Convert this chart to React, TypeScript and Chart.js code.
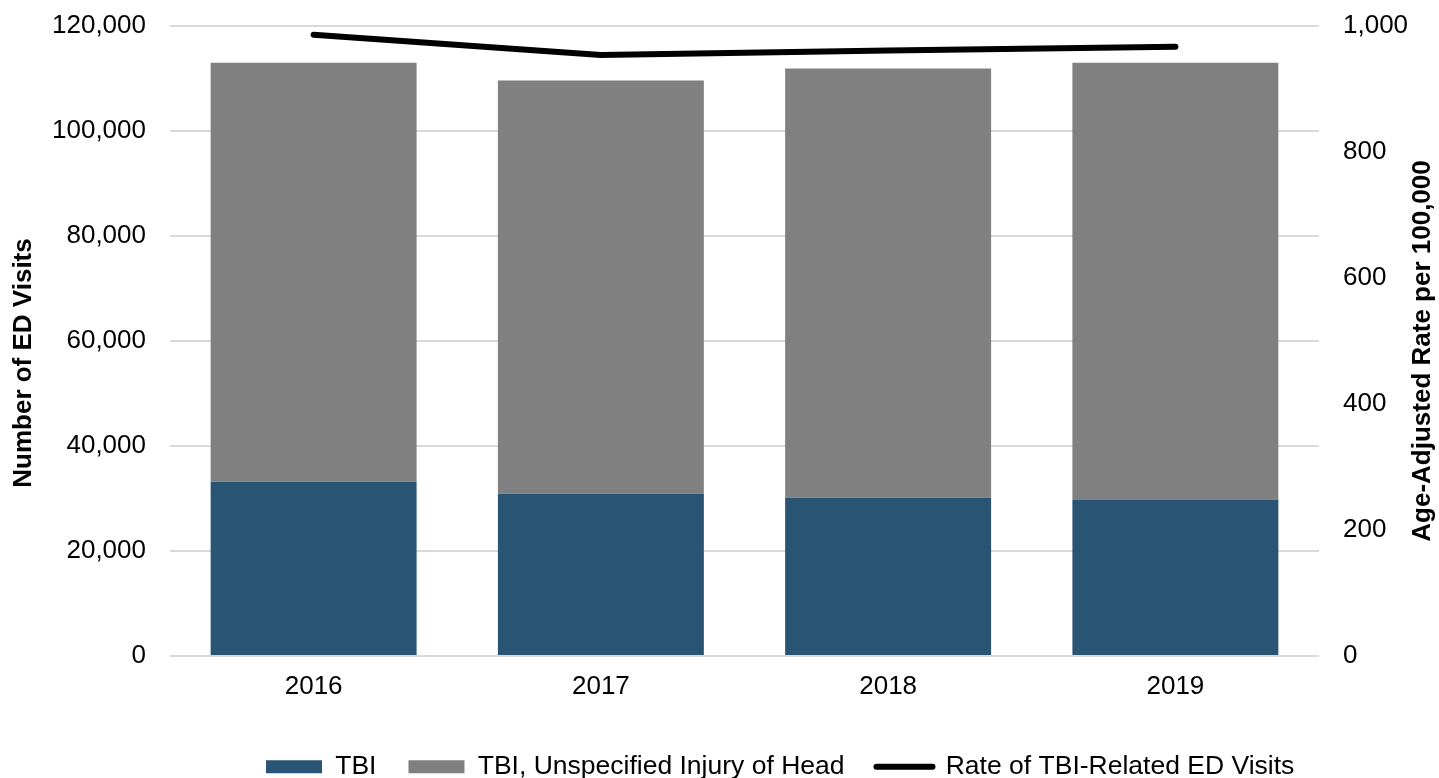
import React, { useEffect, useRef } from "react";
import { Chart, registerables } from "chart.js";

Chart.register(...registerables);

const years = ["2016", "2017", "2018", "2019"];
const tbiVisits = [33200, 30900, 30150, 29800];
const unspecifiedVisits = [79800, 78700, 81750, 83200];
const rateValues = [986, 954, 961, 967];

const leftTicksMax = 120000;
const rightTicksMax = 1000;

const FONT = "'Liberation Sans', Arial, Helvetica, sans-serif";

const titlePlugin = {
  id: "axisTitles",
  afterLayout(chart: any) {
    const lg = chart.legend;
    if (lg && lg.lineWidths) {
      const pad = lg.options.labels.padding;
      const natural = (lg.left + pad + lg.right - lg.lineWidths[0]) / 2;
      const dx = 266 - natural;
      lg.left += dx;
      lg.right += dx;
      lg.top += 12;
      lg.bottom += 12;
    }
  },
  afterDraw(chart: any) {
    const ctx = chart.ctx;
    ctx.save();
    ctx.fillStyle = "#000";
    ctx.font = `bold 26px ${FONT}`;
    ctx.textAlign = "center";
    ctx.textBaseline = "middle";
    ctx.save();
    ctx.translate(24, 363);
    ctx.rotate(-Math.PI / 2);
    ctx.fillText("Number of ED Visits", 0, 0);
    ctx.restore();
    ctx.save();
    ctx.translate(1423, 351);
    ctx.rotate(-Math.PI / 2);
    ctx.fillText("Age-Adjusted Rate per 100,000", 0, 0);
    ctx.restore();
    ctx.restore();
  },
};

export default function App() {
  const canvasRef = useRef<HTMLCanvasElement | null>(null);

  useEffect(() => {
    const canvas = canvasRef.current;
    if (!canvas) return;
    const chart = new Chart(canvas, {
      type: "bar",
      data: {
        labels: years,
        datasets: [
          {
            type: "bar",
            label: "TBI",
            data: tbiVisits,
            backgroundColor: "#295474",
            borderWidth: 0,
            stack: "visits",
            yAxisID: "y",
            categoryPercentage: 1,
            barPercentage: 0.717,
          },
          {
            type: "bar",
            label: "TBI, Unspecified Injury of Head",
            data: unspecifiedVisits,
            backgroundColor: "#808080",
            borderWidth: 0,
            stack: "visits",
            yAxisID: "y",
            categoryPercentage: 1,
            barPercentage: 0.717,
          },
          {
            type: "line",
            label: "Rate of TBI-Related ED Visits",
            data: rateValues,
            borderColor: "#000",
            backgroundColor: "#000",
            borderWidth: 6,
            borderCapStyle: "round",
            borderJoinStyle: "round",
            pointRadius: 0,
            tension: 0,
            yAxisID: "y1",
          } as any,
        ],
      },
      options: {
        responsive: false,
        animation: false,
        layout: { padding: { top: 26, left: 0, right: 0, bottom: 0 } },
        plugins: {
          tooltip: { enabled: false },
          legend: {
            position: "bottom",
            labels: {
              font: { family: FONT, size: 26.5 },
              color: "#000",
              usePointStyle: true,
              pointStyleWidth: 56,
              boxHeight: 13,
              padding: 32,
              generateLabels: () => [
                { text: "TBI", fillStyle: "#295474", strokeStyle: "#295474", lineWidth: 0, pointStyle: "rect", datasetIndex: 0, fontColor: "#000" } as any,
                { text: "TBI, Unspecified Injury of Head", fillStyle: "#808080", strokeStyle: "#808080", lineWidth: 0, pointStyle: "rect", datasetIndex: 1, fontColor: "#000" } as any,
                { text: "Rate of TBI-Related ED Visits", fillStyle: "#000", strokeStyle: "#000", lineWidth: 6, lineCap: "round", pointStyle: "line", datasetIndex: 2, fontColor: "#000" } as any,
              ],
            },
          },
        },
        scales: {
          x: {
            stacked: true,
            offset: true,
            grid: { display: false, drawTicks: false },
            border: { display: false },
            ticks: { font: { family: FONT, size: 26 }, color: "#000", padding: 15 },
            afterFit: (s: any) => { s.height = 53.5; },
          },
          y: {
            stacked: true,
            position: "left",
            min: 0,
            max: leftTicksMax,
            grid: { color: "#d9d9d9", lineWidth: 2, drawTicks: false },
            border: { display: false },
            ticks: {
              stepSize: 20000,
              font: { family: FONT, size: 26 },
              color: "#000",
              padding: 24,
              callback: (v: any) => Number(v).toLocaleString("en-US"),
            },
            afterFit: (s: any) => { s.width = 170; s.paddingTop = 0; s.paddingBottom = 0; },
          },
          y1: {
            position: "right",
            min: 0,
            max: rightTicksMax,
            grid: { display: false, drawTicks: false },
            border: { display: false },
            ticks: {
              stepSize: 200,
              font: { family: FONT, size: 26 },
              color: "#000",
              padding: 24,
              callback: (v: any) => Number(v).toLocaleString("en-US"),
            },
            afterFit: (s: any) => { s.width = 120; s.paddingTop = 0; s.paddingBottom = 0; },
          },
        },
      },
      plugins: [titlePlugin],
    } as any);
    return () => chart.destroy();
  }, []);

  return (
    <div style={{ position: "fixed", left: 0, top: 0, width: 1439, height: 778, background: "#fff" }}>
      <canvas ref={canvasRef} width={1439} height={778} style={{ width: 1439, height: 778, display: "block" }} />
    </div>
  );
}
